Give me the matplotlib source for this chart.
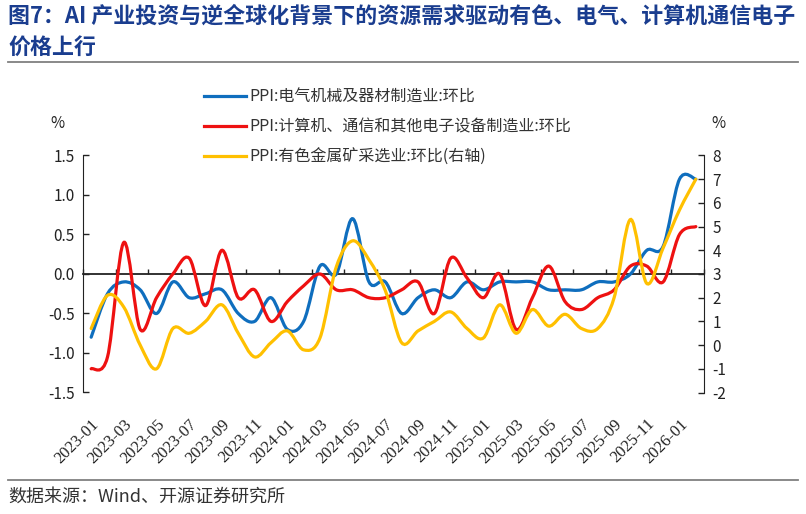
import numpy as np
import pandas as pd
import matplotlib
matplotlib.use('Agg')
import matplotlib.pyplot as plt
from matplotlib.path import Path
from matplotlib.patches import PathPatch
from matplotlib.lines import Line2D

plt.rcParams['font.family'] = ['Noto Sans CJK SC', 'DejaVu Sans']

# ============ #
# Chart values #
# ============ #

months = [p.strftime('%Y-%m') for p in pd.period_range('2023-01', '2026-02', freq='M')]

# PPI:电气机械及器材制造业:环比 (left axis, %)
electrical = [-0.8, -0.25, -0.1, -0.2, -0.5, -0.1, -0.3, -0.25, -0.2, -0.5,
              -0.6, -0.3, -0.7, -0.6, 0.1, 0.0, 0.7, -0.1, -0.1, -0.5,
              -0.3, -0.2, -0.3, -0.1, -0.2, -0.1, -0.1, -0.1, -0.2, -0.2,
              -0.2, -0.1, -0.1, 0.0, 0.3, 0.35, 1.2, 1.2]
# PPI:计算机、通信和其他电子设备制造业:环比 (left axis, %)
computer = [-1.2, -1.05, 0.4, -0.7, -0.3, 0.0, 0.2, -0.4, 0.3, -0.3,
            -0.2, -0.6, -0.35, -0.15, 0.0, -0.2, -0.2, -0.3, -0.3, -0.2,
            -0.1, -0.5, 0.2, -0.05, -0.3, 0.0, -0.7, -0.3, 0.1, -0.35,
            -0.45, -0.3, -0.2, 0.1, 0.1, -0.1, 0.5, 0.6]
# PPI:有色金属矿采选业:环比 (right axis, %)
nonferrous = [0.7, 2.1, 1.6, 0.0, -1.0, 0.7, 0.5, 1.0, 1.7, 0.5,
              -0.5, 0.1, 0.6, -0.2, 0.3, 3.3, 4.4, 3.6, 2.3, 0.1,
              0.6, 1.0, 1.4, 0.7, 0.3, 1.7, 0.5, 1.5, 0.8, 1.3,
              0.7, 0.7, 2.0, 5.3, 2.6, 4.1, 5.7, 7.0]

labels = ['PPI:电气机械及器材制造业:环比',
          'PPI:计算机、通信和其他电子设备制造业:环比',
          'PPI:有色金属矿采选业:环比(右轴)']
colors = ['#0F6EBE', '#EE1111', '#FFC000']

left_ticks = np.arange(-1.5, 1.51, 0.5)
right_ticks = np.arange(-2, 9, 1)


def smooth_path(x, y):
    # Excel-style smoothed line: cubic Bezier segments through every point
    pts = np.column_stack([x, y]).astype(float)
    n = len(pts)
    verts = [pts[0]]
    codes = [Path.MOVETO]
    for i in range(n - 1):
        p0 = pts[i - 1] if i > 0 else pts[i]
        p1, p2 = pts[i], pts[i + 1]
        p3 = pts[i + 2] if i + 2 < n else pts[i + 1]
        verts += [p1 + (p2 - p0) / 6, p2 - (p3 - p1) / 6, p2]
        codes += [Path.CURVE4] * 3
    return Path(verts, codes)


W, H = 806, 514
fig = plt.figure(figsize=(W / 100, H / 100), dpi=100)

left, right, top, bottom = 83, 704, 155.5, 392.5
ax = fig.add_axes([left / W, 1 - bottom / H, (right - left) / W, (bottom - top) / H])
ax2 = ax.twinx()

x = np.arange(len(months))
lw = 2.3
ax.add_patch(PathPatch(smooth_path(x, electrical), fill=False, edgecolor=colors[0], lw=lw,
                       capstyle='round', zorder=3))
ax.add_patch(PathPatch(smooth_path(x, computer), fill=False, edgecolor=colors[1], lw=lw,
                       capstyle='round', zorder=4))
ax2.add_patch(PathPatch(smooth_path(x, nonferrous), fill=False, edgecolor=colors[2], lw=lw,
                        capstyle='round', zorder=3))

ax.set_xlim(-0.5, len(months) - 0.5)
ax.set_ylim(-1.5, 1.5)
ax2.set_ylim(-2, 8)

# left axis
ax.set_yticks(left_ticks)
ax.set_yticklabels([f'{v:.1f}' for v in left_ticks])
ax.tick_params(axis='y', direction='in', length=4, width=1, labelsize=11, pad=6, colors='#222222')
ax.spines['top'].set_visible(False)
ax.spines['left'].set_color('#222222')
ax.spines['right'].set_visible(False)
ax.spines['bottom'].set_position(('data', 0))
ax.spines['bottom'].set_color('#222222')
ax.spines['bottom'].set_linewidth(1.3)

# x ticks on the zero line, at every second category boundary
ax.set_xticks(np.arange(-0.5, len(months), 2))
ax.set_xticklabels([])
ax.tick_params(axis='x', direction='in', length=3.5, width=1, colors='#222222')

# category labels at the bottom of the plot area
sec = ax.secondary_xaxis('bottom')
sec.set_xticks(x[::2])
sec.set_xticklabels(months[::2], family='Liberation Serif', fontsize=12, color='#222222')
sec.tick_params(length=0, pad=17)
sec.spines['bottom'].set_visible(False)
for lab in sec.get_xticklabels():
    lab.set_rotation(45)
    lab.set_ha('right')
    lab.set_rotation_mode('anchor')

# right axis
ax2.set_yticks(right_ticks)
ax2.set_yticklabels([f'{v:d}' for v in right_ticks])
ax2.tick_params(axis='y', direction='in', length=4, width=1, labelsize=11, pad=6, colors='#222222')
for s in ['top', 'bottom', 'left']:
    ax2.spines[s].set_visible(False)
ax2.spines['right'].set_color('#222222')

fig.text(57 / W, 1 - 123 / H, '%', fontsize=11, ha='center', va='center', color='#222222')
fig.text(718 / W, 1 - 123 / H, '%', fontsize=11, ha='center', va='center', color='#222222')

# legend
handles = [Line2D([], [], color=c, lw=2.3) for c in colors]
fig.legend(handles, labels, loc='upper left', bbox_to_anchor=(190 / W, 1 - 74 / H),
           frameon=False, fontsize=11.5, handlelength=2.6, handletextpad=0.2,
           labelspacing=0.82, labelcolor='#333333')

# title and source
title_color = '#1A3D8F'
fig.text(8 / W, 1 - 16 / H, '图7：AI 产业投资与逆全球化背景下的资源需求驱动有色、电气、计算机通信电子',
         fontsize=15.8, fontweight='bold', color=title_color, va='center', ha='left')
fig.text(8 / W, 1 - 47 / H, '价格上行', fontsize=15.8, fontweight='bold', color=title_color,
         va='center', ha='left')
fig.add_artist(Line2D([8 / W, 798 / W], [1 - 62 / H, 1 - 62 / H], color='#808080', lw=1.3))
fig.add_artist(Line2D([8 / W, 798 / W], [1 - 480 / H, 1 - 480 / H], color='#808080', lw=1.3))
fig.text(8 / W, 1 - 497 / H, '数据来源：Wind、开源证券研究所', fontsize=13, color='#333333',
         va='center', ha='left')

fig.savefig('out.png', dpi=100)
